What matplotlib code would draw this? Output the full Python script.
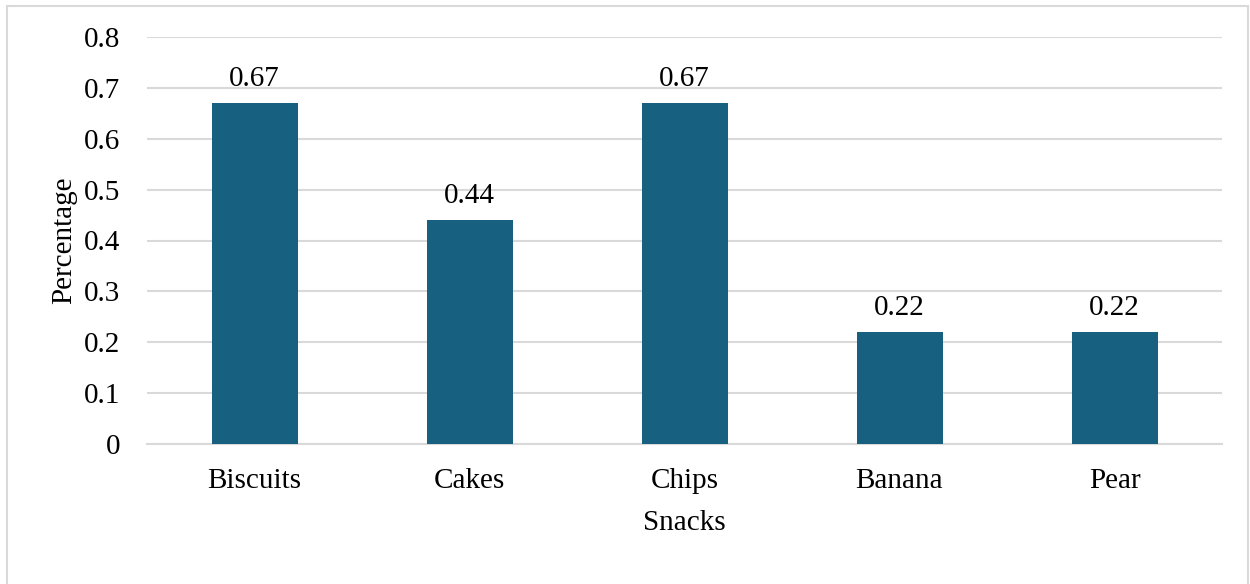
import matplotlib.pyplot as plt
from matplotlib.patches import Rectangle

snacks = ["Biscuits", "Cakes", "Chips", "Banana", "Pear"]
shares = [0.67, 0.44, 0.67, 0.22, 0.22]
yticks = [0, 0.1, 0.2, 0.3, 0.4, 0.5, 0.6, 0.7, 0.8]

plt.rcParams["font.family"] = ["Liberation Serif", "DejaVu Serif"]
FS = 21

fig = plt.figure(figsize=(12.5, 5.84), dpi=100)
ax = fig.add_axes([147 / 1250, 1 - 444 / 584, 1075 / 1250, 407 / 584])

bars = ax.bar(range(len(snacks)), shares, width=0.4, color="#18607f", zorder=3)
for b, v in zip(bars, shares):
    ax.annotate(f"{v:.2f}", (b.get_x() + b.get_width() / 2, v),
                xytext=(0, 8), textcoords="offset points",
                ha="center", va="bottom", fontsize=FS)

ax.set_xlim(-0.5, len(snacks) - 0.5)
ax.set_ylim(0, 0.8)
ax.set_yticks(yticks)
ax.set_yticklabels([f"{t:g}" for t in yticks])
ax.set_xticks(range(len(snacks)))
ax.set_xticklabels(snacks)
ax.tick_params(length=0, labelsize=FS, colors="black")
ax.tick_params(axis="y", pad=19)
ax.tick_params(axis="x", pad=17)

ax.grid(axis="y", color="#d9d9d9", linewidth=1.5, zorder=0)
for side in ["top", "right", "left"]:
    ax.spines[side].set_visible(False)
ax.spines["bottom"].set_color("#d9d9d9")
ax.spines["bottom"].set_linewidth(1.5)

ax.set_xlabel("Snacks", fontsize=FS, labelpad=12)
ax.set_ylabel("Percentage", fontsize=FS, labelpad=5)

# light frame around the whole chart
fig.patches.append(Rectangle((7 / 1250, -0.05), 1241 / 1250, 1 - 6 / 584 + 0.05,
                             transform=fig.transFigure, fill=False,
                             edgecolor="#d9d9d9", linewidth=1.5))

fig.savefig("out.png", dpi=100)
